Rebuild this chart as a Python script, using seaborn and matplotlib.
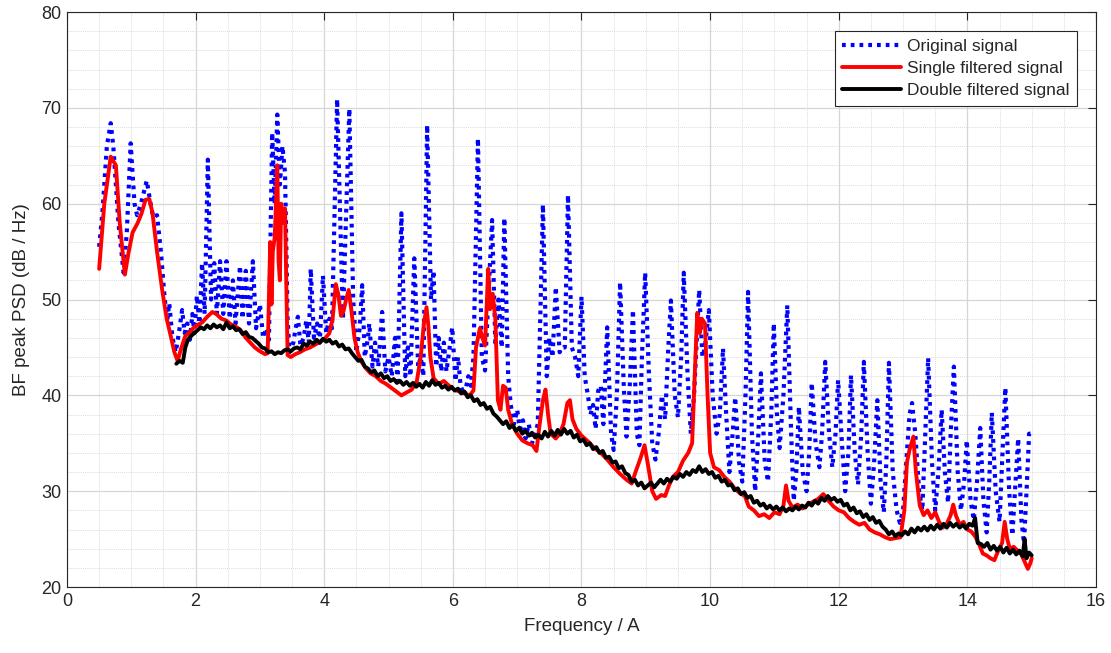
import numpy as np
import pandas as pd
import matplotlib
matplotlib.use("Agg")
import matplotlib.pyplot as plt
import seaborn as sns
from matplotlib.ticker import MultipleLocator

# Original signal (blue dotted): frequency / PSD pairs
orig_freq = [
    0.50, 0.55, 0.62, 0.68, 0.72, 0.80, 0.88, 0.93, 0.99, 1.05, 1.09, 1.15, 1.24, 1.30, 1.34, 1.40,
    1.46, 1.52, 1.56, 1.59, 1.64, 1.69, 1.74, 1.79, 1.83, 1.87, 1.91, 1.95, 1.98, 2.02, 2.06, 2.10,
    2.14, 2.19, 2.24, 2.29, 2.33, 2.38, 2.43, 2.48, 2.53, 2.58, 2.62, 2.69, 2.73, 2.78, 2.83, 2.89,
    2.94, 3.00, 3.05, 3.10, 3.14, 3.19, 3.23, 3.27, 3.31, 3.35, 3.39, 3.43, 3.46, 3.52, 3.55, 3.59,
    3.63, 3.68, 3.72, 3.76, 3.79, 3.84, 3.89, 3.93, 3.98, 4.03, 4.08, 4.12, 4.20, 4.29, 4.39, 4.45,
    4.50, 4.55, 4.59, 4.63, 4.68, 4.70, 4.75, 4.79, 4.84, 4.90, 4.95, 5.00, 5.05, 5.10, 5.14, 5.20,
    5.26, 5.30, 5.34, 5.40, 5.46, 5.50, 5.54, 5.60, 5.66, 5.70, 5.74, 5.78, 5.82, 5.86, 5.90, 5.95,
    5.99, 6.04, 6.08, 6.12, 6.18, 6.24, 6.28, 6.32, 6.39, 6.45, 6.50, 6.55, 6.61, 6.66, 6.71, 6.76,
    6.80, 6.86, 6.90, 6.95, 7.00, 7.04, 7.09, 7.13, 7.18, 7.23, 7.28, 7.32, 7.40, 7.46, 7.50, 7.55,
    7.60, 7.66, 7.70, 7.74, 7.79, 7.85, 7.90, 7.95, 8.00, 8.05, 8.10, 8.14, 8.18, 8.22, 8.26, 8.30,
    8.34, 8.40, 8.46, 8.50, 8.55, 8.60, 8.66, 8.70, 8.75, 8.80, 8.86, 8.90, 8.94, 8.99, 9.05, 9.10,
    9.15, 9.20, 9.25, 9.30, 9.35, 9.39, 9.45, 9.50, 9.55, 9.59, 9.65, 9.70, 9.75, 9.83, 9.88, 9.92,
    9.98, 10.04, 10.10, 10.15, 10.20, 10.25, 10.30, 10.35, 10.39, 10.45, 10.50, 10.55, 10.59, 10.65,
    10.70, 10.75, 10.79, 10.85, 10.90, 10.95, 10.99, 11.04, 11.08, 11.14, 11.20, 11.26, 11.30, 11.34,
    11.38, 11.44, 11.50, 11.54, 11.58, 11.64, 11.70, 11.74, 11.79, 11.85, 11.90, 11.95, 11.99, 12.05,
    12.10, 12.15, 12.19, 12.25, 12.30, 12.35, 12.39, 12.45, 12.50, 12.55, 12.60, 12.65, 12.70, 12.74,
    12.78, 12.84, 12.90, 12.95, 13.00, 13.05, 13.10, 13.14, 13.19, 13.25, 13.30, 13.34, 13.39, 13.45,
    13.50, 13.55, 13.60, 13.65, 13.70, 13.74, 13.79, 13.85, 13.90, 13.95, 13.99, 14.05, 14.10, 14.15,
    14.20, 14.25, 14.30, 14.34, 14.38, 14.44, 14.50, 14.54, 14.59, 14.65, 14.70, 14.74, 14.79, 14.84,
    14.88, 14.92, 14.96, 15.00,
]
orig_psd = [
    55.5, 59.0, 66.0, 68.4, 66.0, 58.0, 52.8, 57.0, 66.3, 60.0, 58.8, 60.0, 62.4, 60.0, 58.6, 58.8,
    55.0, 50.0, 48.0, 49.6, 46.0, 44.5, 46.5, 48.9, 46.5, 47.5, 45.8, 48.5, 46.5, 50.4, 47.5, 53.8,
    48.5, 64.6, 50.0, 53.8, 48.5, 54.0, 48.5, 54.0, 48.0, 52.0, 47.5, 53.5, 48.0, 53.0, 47.5, 54.0,
    47.0, 49.5, 46.0, 47.0, 45.8, 67.4, 60.0, 69.3, 62.0, 66.0, 63.2, 48.0, 44.5, 45.5, 46.8, 48.2,
    45.2, 46.0, 47.8, 45.5, 53.2, 46.0, 47.5, 45.5, 52.5, 46.5, 48.0, 47.0, 70.9, 47.9, 69.9, 50.0,
    44.5, 47.0, 51.5, 44.0, 46.0, 47.5, 43.0, 45.5, 43.0, 48.7, 42.5, 44.0, 42.0, 46.0, 41.5, 59.0,
    42.0, 45.0, 42.0, 54.3, 43.0, 44.0, 42.0, 68.2, 50.0, 53.0, 43.0, 46.0, 42.5, 45.5, 42.5, 45.0,
    47.1, 41.5, 44.0, 41.0, 40.0, 42.0, 41.0, 44.0, 66.8, 44.0, 42.6, 50.0, 58.3, 45.5, 50.0, 45.0,
    58.5, 42.0, 39.0, 37.0, 38.5, 36.5, 37.4, 35.5, 37.0, 35.0, 36.0, 37.0, 59.9, 42.0, 46.0, 44.0,
    51.3, 44.5, 45.0, 45.0, 60.9, 45.0, 44.0, 42.0, 50.3, 42.0, 40.0, 38.0, 39.0, 36.5, 40.5, 41.0,
    37.0, 47.1, 36.0, 34.3, 40.0, 51.8, 40.5, 35.7, 41.0, 48.9, 36.0, 34.8, 44.0, 52.8, 42.0, 35.0,
    33.3, 36.0, 40.0, 37.5, 45.0, 49.9, 40.0, 37.7, 44.0, 52.8, 42.0, 36.0, 40.0, 51.0, 44.0, 45.0,
    48.9, 40.0, 36.0, 38.0, 44.9, 38.0, 32.0, 36.0, 39.8, 33.0, 31.0, 40.0, 50.8, 36.0,
    30.0, 36.0, 42.3, 33.0, 31.0, 38.0, 47.5, 38.0, 34.5, 40.0, 49.4, 36.0, 29.0, 32.0,
    38.8, 32.0, 30.0, 34.0, 41.3, 35.0, 32.5, 36.0, 43.5, 36.0, 32.5, 36.0, 41.6, 35.0,
    30.0, 34.0, 42.1, 34.0, 30.7, 36.0, 43.5, 34.0, 28.7, 33.0, 39.5, 31.0, 27.8, 33.0,
    43.4, 32.0, 28.0, 26.7, 28.0, 33.0, 38.0, 39.2, 36.0, 30.0, 28.0, 35.0, 43.9, 33.0,
    28.0, 32.0, 38.5, 32.0, 28.8, 36.0, 43.0, 32.0, 28.0, 31.0, 35.3, 29.0, 27.0, 31.0,
    36.6, 29.0, 25.7, 31.0, 38.2, 30.0, 26.8, 33.0, 40.8, 30.0, 25.4, 30.0, 35.5, 27.0,
    24.6, 30.0, 36.0, 36.0,
]

# Single filtered signal (red)
single_freq = [
    0.50, 0.58, 0.68, 0.76, 0.82, 0.90, 0.96, 1.02, 1.10, 1.16, 1.22, 1.28, 1.33, 1.40, 1.48, 1.55,
    1.62, 1.67, 1.72, 1.78, 1.84, 1.90, 1.96, 2.02, 2.10, 2.18, 2.26, 2.32, 2.40, 2.48, 2.55, 2.62,
    2.70, 2.78, 2.85, 2.92, 3.00, 3.08, 3.12, 3.14, 3.16, 3.18, 3.20, 3.23, 3.27, 3.29, 3.31, 3.33,
    3.36, 3.39, 3.41, 3.43, 3.48, 3.55, 3.62, 3.70, 3.78, 3.86, 3.94, 4.02, 4.08, 4.13, 4.18, 4.22,
    4.26, 4.30, 4.34, 4.38, 4.42, 4.47, 4.52, 4.58, 4.65, 4.72, 4.80, 4.88, 4.96, 5.04, 5.12, 5.20,
    5.28, 5.36, 5.44, 5.50, 5.55, 5.59, 5.62, 5.65, 5.70, 5.78, 5.86, 5.94, 6.02, 6.10, 6.18, 6.26,
    6.32, 6.36, 6.42, 6.46, 6.50, 6.55, 6.58, 6.62, 6.66, 6.70, 6.74, 6.78, 6.82, 6.86, 6.92, 7.00,
    7.08, 7.16, 7.24, 7.30, 7.34, 7.40, 7.44, 7.48, 7.52, 7.60, 7.66, 7.72, 7.78, 7.82, 7.86, 7.92,
    8.00, 8.10, 8.20, 8.30, 8.40, 8.50, 8.60, 8.70, 8.78, 8.84, 8.92, 8.98, 9.04, 9.10, 9.16, 9.24,
    9.30, 9.36, 9.42, 9.50, 9.58, 9.66, 9.72, 9.76, 9.80, 9.84, 9.87, 9.92, 9.96, 10.00, 10.06, 10.14,
    10.22, 10.30, 10.38, 10.46, 10.54, 10.60, 10.68, 10.76, 10.84, 10.92, 11.00, 11.08, 11.14, 11.18,
    11.22, 11.28, 11.36, 11.44, 11.52, 11.60, 11.68, 11.76, 11.84, 11.92, 12.00, 12.08, 12.16, 12.24,
    12.32, 12.40, 12.48, 12.56, 12.64, 12.72, 12.80, 12.88, 12.96, 13.02, 13.06, 13.10, 13.16, 13.20,
    13.26, 13.32, 13.38, 13.44, 13.50, 13.56, 13.62, 13.68, 13.74, 13.78, 13.82, 13.88, 13.94, 14.00,
    14.06, 14.12, 14.18, 14.24, 14.30, 14.36, 14.42, 14.48, 14.54, 14.58, 14.62, 14.66, 14.72, 14.78,
    14.84, 14.90, 14.94, 14.98, 15.00,
]
single_psd = [
    53.2, 60.0, 64.9, 64.0, 58.0, 52.6, 55.0, 57.0, 58.0, 59.0, 60.4, 60.5, 59.0, 55.0, 51.0, 48.0,
    46.0, 44.5, 43.6, 45.0, 46.2, 46.5, 47.0, 47.3, 47.6, 48.2, 48.7, 48.5, 48.0, 47.8, 47.4, 47.2,
    46.8, 46.0, 45.5, 45.0, 44.6, 44.3, 44.4, 50.0, 56.0, 49.5, 55.0, 56.5, 64.0, 54.0, 52.0, 60.0,
    58.0, 59.5, 52.0, 44.2, 44.0, 44.3, 44.5, 44.8, 45.0, 45.3, 45.6, 46.0, 46.5, 48.0, 51.6, 50.5,
    48.3, 48.8, 50.0, 51.0, 49.0, 46.0, 44.5, 43.5, 42.8, 42.3, 42.0, 41.5, 41.2, 40.8, 40.4, 40.0,
    40.3, 40.6, 41.5, 44.0, 47.5, 49.2, 47.2, 44.0, 41.8, 41.2, 41.5, 41.0, 40.6, 40.4, 40.2, 40.0,
    40.5, 45.0, 47.0, 46.0, 45.2, 53.2, 49.0, 50.6, 48.0, 39.5, 38.5, 41.0, 40.8, 38.5, 37.0, 36.0,
    35.3, 35.0, 34.8, 34.2, 36.5, 39.5, 40.6, 38.0, 36.0, 35.5, 36.0, 37.0, 39.2, 39.5, 37.5, 36.5,
    35.8, 35.2, 34.5, 34.0, 33.3, 32.5, 31.8, 31.2, 30.8, 32.0, 33.5, 34.8, 32.5, 30.0, 29.2, 29.6,
    29.5, 30.6, 31.5, 32.0, 33.2, 34.0, 35.0, 42.0, 48.6, 46.5, 48.0, 47.5, 40.0, 34.0, 32.5, 32.2,
    31.5, 31.0, 30.3, 29.8, 29.5, 28.4, 28.0, 27.4, 27.6, 27.2, 27.8, 27.6, 28.5, 30.6,
    29.0, 28.3, 28.6, 28.2, 28.6, 28.9, 29.2, 29.7, 29.0, 28.4, 28.0, 27.8, 27.2, 26.8,
    26.5, 26.7, 26.0, 25.7, 25.5, 25.2, 25.0, 25.1, 25.2, 28.0, 33.0, 34.3, 35.7, 32.0,
    28.5, 27.5, 28.0, 27.2, 27.8, 26.8, 26.2, 26.6, 27.5, 28.6, 27.5, 26.5, 26.8, 26.0,
    25.8, 25.3, 24.5, 23.5, 23.3, 23.0, 22.8, 23.8, 24.6, 26.8, 25.0, 24.0, 24.2, 23.8,
    23.4, 22.5, 21.9, 22.5, 23.0,
]

# Double filtered signal (black)
double_freq = [
    1.70, 1.75, 1.80, 1.84, 1.88, 1.93, 1.98, 2.03, 2.08, 2.13, 2.18, 2.23, 2.28, 2.33, 2.38, 2.43,
    2.48, 2.53, 2.58, 2.63, 2.68, 2.73, 2.78, 2.83, 2.88, 2.93, 2.98, 3.03, 3.08, 3.13, 3.18, 3.23,
    3.28, 3.33, 3.38, 3.43, 3.48, 3.53, 3.58, 3.63, 3.68, 3.73, 3.78, 3.83, 3.88, 3.93, 3.98, 4.03,
    4.08, 4.13, 4.18, 4.23, 4.28, 4.33, 4.38, 4.43, 4.48, 4.53, 4.58, 4.63, 4.68, 4.73, 4.78, 4.83,
    4.88, 4.93, 4.98, 5.03, 5.08, 5.13, 5.18, 5.23, 5.28, 5.33, 5.38, 5.43, 5.48, 5.53, 5.58, 5.63,
    5.68, 5.73, 5.78, 5.83, 5.88, 5.93, 5.98, 6.03, 6.08, 6.13, 6.18, 6.23, 6.28, 6.33, 6.38, 6.43,
    6.48, 6.53, 6.58, 6.63, 6.68, 6.73, 6.78, 6.83, 6.88, 6.93, 6.98, 7.03, 7.08, 7.13, 7.18, 7.23,
    7.28, 7.33, 7.38, 7.43, 7.48, 7.53, 7.58, 7.63, 7.68, 7.73, 7.78, 7.83, 7.88, 7.93, 7.98, 8.03,
    8.08, 8.13, 8.18, 8.23, 8.28, 8.33, 8.38, 8.43, 8.48, 8.53, 8.58, 8.63, 8.68, 8.73, 8.78, 8.83,
    8.88, 8.93, 8.98, 9.03, 9.08, 9.13, 9.18, 9.23, 9.28, 9.33, 9.38, 9.43, 9.48, 9.53, 9.58, 9.63,
    9.68, 9.73, 9.78, 9.83, 9.88, 9.93, 9.98, 10.03, 10.08, 10.13, 10.18, 10.23, 10.28, 10.33, 10.38,
    10.43, 10.48, 10.53, 10.58, 10.63, 10.68, 10.73, 10.78, 10.83, 10.88, 10.93, 10.98, 11.03, 11.08,
    11.13, 11.18, 11.23, 11.28, 11.33, 11.38, 11.43, 11.48, 11.53, 11.58, 11.63, 11.68, 11.73, 11.78,
    11.83, 11.88, 11.93, 11.98, 12.03, 12.08, 12.13, 12.18, 12.23, 12.28, 12.33, 12.38, 12.43, 12.48,
    12.53, 12.58, 12.63, 12.68, 12.73, 12.78, 12.83, 12.88, 12.93, 12.98, 13.03, 13.08, 13.13, 13.18,
    13.23, 13.28, 13.33, 13.38, 13.43, 13.48, 13.53, 13.58, 13.63, 13.68, 13.73, 13.78, 13.83, 13.88,
    13.93, 13.98, 14.03, 14.08, 14.12, 14.16, 14.21, 14.26, 14.31, 14.36, 14.41, 14.46, 14.51, 14.56,
    14.61, 14.66, 14.71, 14.76, 14.81, 14.86, 14.89, 14.92, 14.96, 15.00,
]
double_psd = [
    43.3, 43.6, 43.4, 45.0, 45.8, 46.2, 46.5, 46.8, 47.1, 46.9, 47.3, 47.0, 47.4, 47.1, 47.3, 46.9,
    47.6, 47.0, 47.2, 46.8, 46.9, 46.4, 46.6, 46.1, 46.0, 45.7, 45.4, 45.0, 44.9, 44.5, 44.6, 44.3,
    44.5, 44.4, 44.7, 44.8, 44.6, 44.9, 45.0, 44.8, 45.4, 45.2, 45.6, 45.4, 45.8, 45.5, 45.9, 45.6,
    45.8, 45.4, 45.6, 45.1, 45.3, 44.8, 44.9, 44.4, 44.0, 43.6, 43.7, 43.0, 42.8, 42.4, 42.6, 42.0,
    42.3, 41.8, 42.0, 41.5, 41.7, 41.3, 41.5, 41.1, 41.4, 41.0, 41.3, 40.9, 41.2, 40.8, 41.4, 41.0,
    41.6, 41.1, 41.3, 40.8, 41.0, 40.6, 40.9, 40.5, 40.7, 40.2, 40.4, 39.8, 40.0, 39.4, 39.6, 39.0,
    39.2, 38.6, 38.8, 38.1, 37.8, 37.4, 37.0, 37.3, 36.6, 36.9, 36.3, 36.6, 36.0, 36.3, 35.8, 36.1,
    35.6, 35.9, 35.5, 36.2, 35.7, 36.3, 35.8, 36.4, 35.9, 36.5, 36.0, 36.3, 35.6, 35.9, 35.2, 35.4,
    34.8, 35.0, 34.4, 34.6, 34.0, 34.2, 33.5, 33.6, 33.0, 33.1, 32.4, 32.6, 31.9, 31.7, 31.0, 31.2,
    30.6, 30.9, 30.3, 30.6, 30.9, 30.4, 30.8, 31.2, 30.8, 31.3, 31.0, 31.5, 31.3, 31.8, 31.5, 32.0,
    31.7, 32.2, 32.0, 32.6, 32.0, 32.3, 31.8, 32.0, 31.4, 31.6, 31.0, 31.2, 30.6, 30.7, 30.1,
    30.3, 29.7, 29.9, 29.3, 29.5, 28.8, 29.0, 28.5, 28.7, 28.2, 28.5, 28.1, 28.4, 28.0,
    28.3, 27.9, 28.2, 28.0, 28.4, 28.1, 28.5, 28.3, 28.8, 28.5, 29.0, 28.7, 29.3, 29.0,
    29.5, 29.1, 29.3, 28.9, 29.1, 28.5, 28.7, 28.0, 28.3, 27.7, 27.9, 27.3, 27.6, 27.0,
    27.3, 26.7, 26.9, 26.3, 26.0, 25.5, 25.8, 25.3, 25.6, 25.4, 25.8, 25.5, 26.1, 25.7,
    26.2, 25.9, 26.3, 25.9, 26.4, 26.0, 26.5, 26.1, 26.6, 26.2, 26.7, 26.3, 26.6, 26.2,
    26.5, 26.1, 26.6, 26.4, 27.2, 24.6, 24.5, 24.2, 24.6, 23.9, 24.3, 23.8, 24.2, 23.6,
    24.1, 23.5, 23.9, 23.4, 23.8, 23.2, 25.0, 23.0, 23.6, 23.3,
]

df_orig = pd.DataFrame({"freq": orig_freq, "psd": orig_psd})
df_single = pd.DataFrame({"freq": single_freq, "psd": single_psd})
df_double = pd.DataFrame({"freq": double_freq, "psd": double_psd})

sns.set_style("white")
plt.rcParams["font.family"] = ["Liberation Sans", "DejaVu Sans"]

fig = plt.figure(figsize=(11.11, 6.53), dpi=100)
ax = fig.add_axes([0.0603, 0.101, 0.9262, 0.8806])

sns.lineplot(data=df_orig, x="freq", y="psd", ax=ax, color="#0000ff", lw=3.0,
             linestyle=(0, (0.9, 1.2)), label="Original signal", estimator=None, sort=False)
sns.lineplot(data=df_single, x="freq", y="psd", ax=ax, color="#ff0000", lw=2.8,
             label="Single filtered signal", estimator=None, sort=False)
sns.lineplot(data=df_double, x="freq", y="psd", ax=ax, color="black", lw=2.8,
             label="Double filtered signal", estimator=None, sort=False)

ax.set_xlim(0, 16)
ax.set_ylim(20, 80)
ax.xaxis.set_major_locator(MultipleLocator(2))
ax.xaxis.set_minor_locator(MultipleLocator(0.5))
ax.yaxis.set_major_locator(MultipleLocator(10))
ax.yaxis.set_minor_locator(MultipleLocator(2))

ax.grid(True, which="major", color="#d6d6d6", lw=0.9, ls="-")
ax.grid(True, which="minor", color="#dcdcdc", lw=0.7, ls=(0, (1, 1)))
ax.set_axisbelow(True)

ax.tick_params(which="major", direction="in", length=6, width=0.8, top=True, right=True,
               labelsize=13, colors="#262626", pad=4)
ax.tick_params(which="minor", length=0, top=True, right=True)
for s in ax.spines.values():
    s.set_color("#262626")
    s.set_linewidth(0.8)

ax.set_xlabel("Frequency / A", fontsize=13.5, color="#262626", labelpad=6)
ax.set_ylabel("BF peak PSD (dB / Hz)", fontsize=13.5, color="#262626", labelpad=8)

leg = ax.legend(loc="upper right", bbox_to_anchor=(0.9815, 0.967), borderaxespad=0,
                fontsize=12.5, handlelength=3.4, handletextpad=0.3, labelspacing=0.4,
                borderpad=0.45, fancybox=False, framealpha=1, edgecolor="#262626")
leg.get_frame().set_linewidth(0.8)

fig.savefig("out.png", dpi=100)
